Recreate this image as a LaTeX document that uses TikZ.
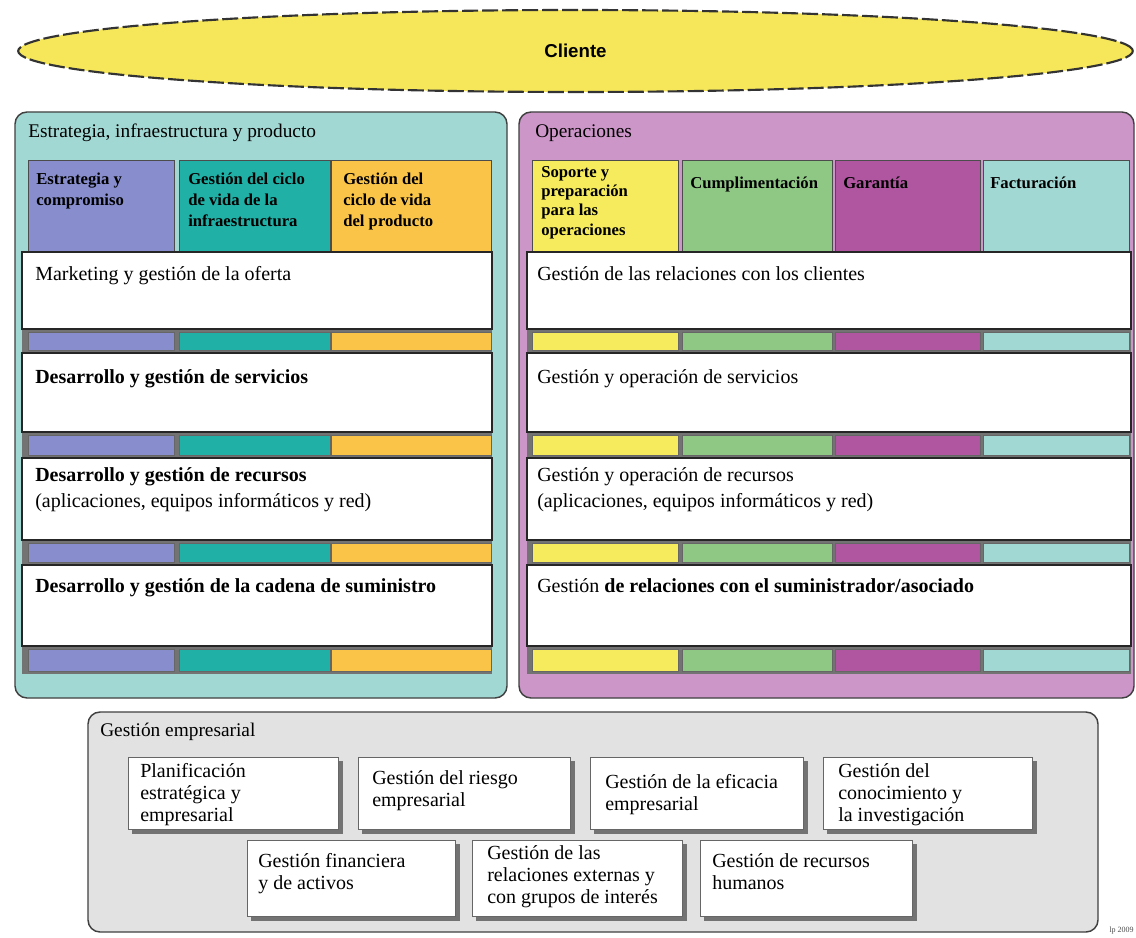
\documentclass[tikz,border=0pt]{standalone}
\usepackage{fontspec}
\setmainfont{Liberation Serif}
\setsansfont{Liberation Sans}
\usetikzlibrary{shapes.geometric}

% eTOM colours
\definecolor{clientfill}{RGB}{245,230,90}
\definecolor{sipfill}{RGB}{162,216,211}
\definecolor{opsfill}{RGB}{204,150,200}
\definecolor{entfill}{RGB}{226,226,226}
\definecolor{colA}{RGB}{135,141,205}
\definecolor{colB}{RGB}{32,176,166}
\definecolor{colC}{RGB}{250,196,72}
\definecolor{colD}{RGB}{245,235,92}
\definecolor{colE}{RGB}{142,200,132}
\definecolor{colF}{RGB}{176,86,160}
\definecolor{colG}{RGB}{162,216,211}

\tikzset{
  panel/.style={draw=black!75, line width=1.1pt, rounded corners=9pt},
  colhead/.style={draw=black!70, line width=0.7pt},
  rowbox/.style={draw=black!85, fill=white, line width=0.9pt},
  band/.style={fill=black!55},
  cell/.style={draw=black!60, line width=0.5pt},
  title/.style={anchor=north west, inner sep=0pt, font=\fontsize{14.5}{17}\selectfont},
  rowtxt/.style={anchor=north west, align=left, inner sep=0pt, font=\fontsize{15}{19.5}\selectfont},
  hdrtxt/.style={anchor=north west, align=left, inner sep=0pt, font=\bfseries\fontsize{12.5}{15.5}\selectfont},
  mgmtbox/.style={draw=black!60, fill=white, line width=0.6pt},
  mgmtshadow/.style={fill=black!55},
  mgmttxt/.style={anchor=north west, align=left, inner sep=0pt, font=\fontsize{15}{16.5}\selectfont},
  cliente/.style={ellipse, draw=black!80, line width=1.6pt, dash pattern=on 12pt off 3pt,
    fill=clientfill, minimum width=836pt, minimum height=61.5pt, inner sep=0pt,
    font=\sffamily\bfseries\fontsize{14}{16}\selectfont}
}

\begin{document}
\begin{tikzpicture}[x=0.75pt, y=-0.75pt]
\useasboundingbox (0,0) rectangle (1136,938);
\fill[white] (0,0) rectangle (1136,938);

% customer
\node[cliente] (cliente) at (575.5,51) {Cliente};

% ---------- Strategy, infrastructure & product ----------
\path[panel, fill=sipfill] (15,112) rectangle (507,698);
\node[title] (siptitle) at (28,124) {Estrategia, infraestructura y producto};

\path[colhead, fill=colA] (28,160) rectangle (174,252);
\path[colhead, fill=colB] (179,160) rectangle (330,252);
\path[colhead, fill=colC] (331,160) rectangle (491,252);
\node[hdrtxt] (hA) at (36,173) {Estrategia y\\compromiso};
\node[hdrtxt] (hB) at (188,173) {Gestión del ciclo\\de vida de la\\infraestructura};
\node[hdrtxt] (hC) at (343,173) {Gestión del\\ciclo de vida\\del producto};

\foreach \ya/\yb in {329/353,432/458,540/565,646/674} {
  \fill[band] (22,\ya) rectangle (492,\yb);
  \path[cell, fill=colA] (28,\ya+3) rectangle (174,\yb-3);
  \path[cell, fill=colB] (179,\ya+3) rectangle (330,\yb-3);
  \path[cell, fill=colC] (331,\ya+3) rectangle (491,\yb-3);
}

\path[rowbox] (22,252) rectangle (492,329);
\path[rowbox] (22,353) rectangle (492,432);
\path[rowbox] (22,458) rectangle (492,540);
\path[rowbox] (22,565) rectangle (492,646);
\node[rowtxt] (sipA) at (35,266) {Marketing y gestión de la oferta};
\node[rowtxt] (sipB) at (35,369) {\textbf{Desarrollo y gestión de servicios}};
\node[rowtxt] (sipC) at (35,467) {\textbf{Desarrollo y gestión de recursos}\\(aplicaciones, equipos informáticos y red)};
\node[rowtxt] (sipD) at (35,578) {\textbf{Desarrollo y gestión de la cadena de suministro}};

% ---------- Operations ----------
\path[panel, fill=opsfill] (519,112) rectangle (1134,698);
\node[title] (opstitle) at (535,124) {Operaciones};

\path[colhead, fill=colD] (532,160) rectangle (678,252);
\path[colhead, fill=colE] (682,160) rectangle (832,252);
\path[colhead, fill=colF] (835,160) rectangle (980,252);
\path[colhead, fill=colG] (983,160) rectangle (1129,252);
\node[hdrtxt, font=\bfseries\fontsize{12.5}{14.5}\selectfont] (hD) at (541,166) {Soporte y\\preparación\\para las\\operaciones};
\node[hdrtxt] (hE) at (690,177) {Cumplimentación};
\node[hdrtxt] (hF) at (843,177) {Garantía};
\node[hdrtxt] (hG) at (990,177) {Facturación};

\foreach \ya/\yb in {329/353,432/458,540/565,646/674} {
  \fill[band] (527,\ya) rectangle (1131,\yb);
  \path[cell, fill=colD] (532,\ya+3) rectangle (678,\yb-3);
  \path[cell, fill=colE] (682,\ya+3) rectangle (832,\yb-3);
  \path[cell, fill=colF] (835,\ya+3) rectangle (980,\yb-3);
  \path[cell, fill=colG] (983,\ya+3) rectangle (1129,\yb-3);
}

\path[rowbox] (527,252) rectangle (1131,329);
\path[rowbox] (527,353) rectangle (1131,432);
\path[rowbox] (527,458) rectangle (1131,540);
\path[rowbox] (527,565) rectangle (1131,646);
\node[rowtxt] (opsA) at (537,266) {Gestión de las relaciones con los clientes};
\node[rowtxt] (opsB) at (537,369) {Gestión y operación de servicios};
\node[rowtxt] (opsC) at (537,467) {Gestión y operación de recursos\\(aplicaciones, equipos informáticos y red)};
\node[rowtxt] (opsD) at (537,578) {Gestión \textbf{de relaciones con el suministrador/asociado}};

% ---------- Enterprise management ----------
\path[panel, fill=entfill] (88,712) rectangle (1098,932);
\node[title] (enttitle) at (100,723) {Gestión empresarial};

\foreach \xa/\ya/\xb/\yb in {128/757/338/829, 358/757/570/829, 590/757/803/829, 823/757/1032/829,
                             247/840/455/916, 472/840/682/916, 700/840/912/916} {
  \fill[mgmtshadow] (\xa+4,\ya+4) rectangle (\xb+5,\yb+5);
  \path[mgmtbox] (\xa,\ya) rectangle (\xb,\yb);
}
\node[mgmttxt] (eA) at (140,763) {Planificación\\estratégica y\\empresarial};
\node[mgmttxt] (eB) at (372,770) {Gestión del riesgo\\empresarial};
\node[mgmttxt] (eC) at (605,774) {Gestión de la eficacia\\empresarial};
\node[mgmttxt] (eD) at (838,763) {Gestión del\\conocimiento y\\la investigación};
\node[mgmttxt] (eE) at (258,853) {Gestión financiera\\y de activos};
\node[mgmttxt] (eF) at (487,845) {Gestión de las\\relaciones externas y\\con grupos de interés};
\node[mgmttxt] (eG) at (712,853) {Gestión de recursos\\humanos};

\node[anchor=south east, inner sep=0pt, font=\fontsize{6}{7}\selectfont, text=black!70] (figref) at (1134,934) {lp 2009};
\end{tikzpicture}
\end{document}
